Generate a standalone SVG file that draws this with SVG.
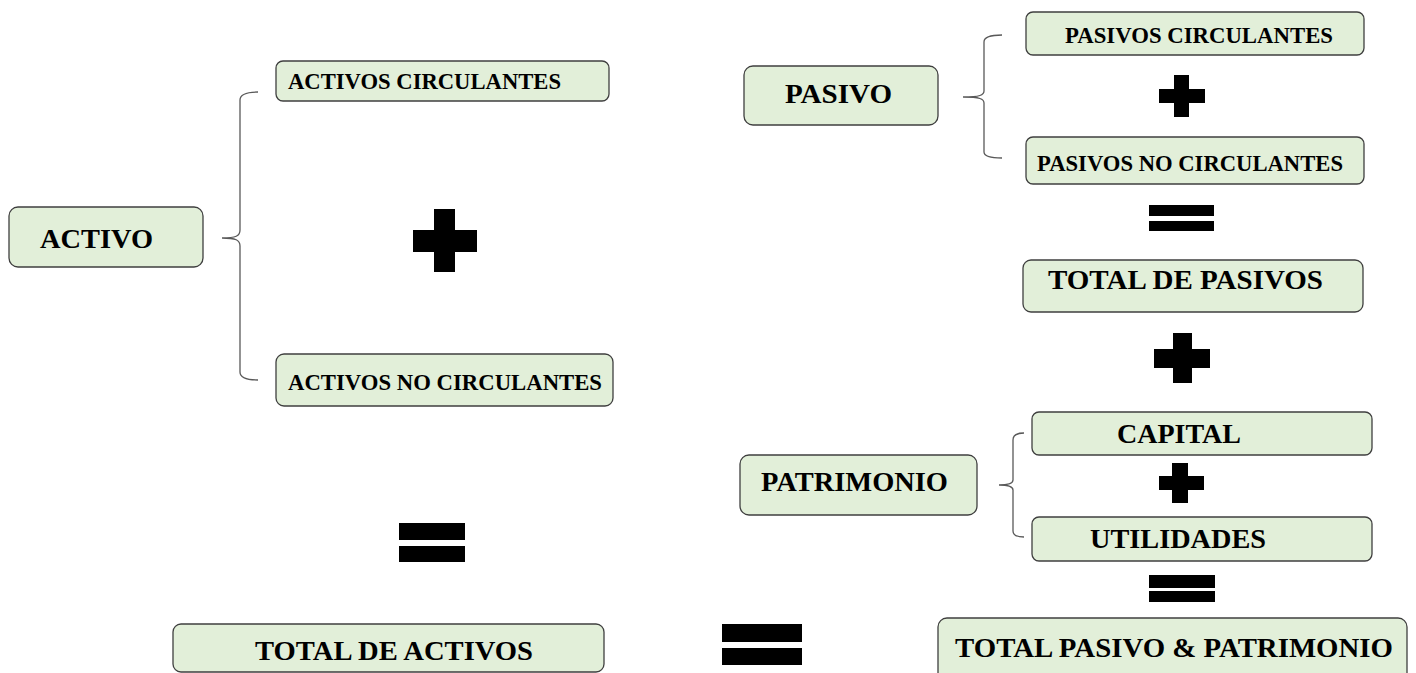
<svg xmlns="http://www.w3.org/2000/svg" width="1416" height="673" viewBox="0 0 1416 673">
<style>
.box{fill:#e2efd9;stroke:#3f3f3f;stroke-width:1.3}
.t{font-family:"Liberation Serif","Times New Roman",serif;font-weight:bold;fill:#000}
.big{font-size:28px}
.sm{font-size:22.5px}
.brace{fill:none;stroke:#595959;stroke-width:1.3}
.op{fill:#000}
</style>
<rect width="1416" height="673" fill="#fff"/>
<g id="connectors">
<path class="brace" d="M258,92 C246,92 240,94 240,100 L240,230 C240,236 236,238 222,238 C236,238 240,240 240,246 L240,372 C240,378 246,380 258,380"/>
<path class="brace" d="M1002,35 C990,35 984,37 984,42 L984,91 C984,95 980,97 963,97 C980,97 984,99 984,103 L984,152 C984,156 990,158 1002,158"/>
<path class="brace" d="M1024,433 C1017,433 1013,435 1013,440 L1013,480 C1013,483 1010,485 999,485 C1010,485 1013,487 1013,490 L1013,531 C1013,535 1017,537 1024,537"/>
</g>
<g id="activo"><rect class="box" x="9" y="207" width="194" height="60" rx="9"/><text class="t big" x="40" y="248" textLength="113" lengthAdjust="spacingAndGlyphs">ACTIVO</text></g>
<g id="activos-circulantes"><rect class="box" x="276" y="61" width="333" height="40" rx="7"/><text class="t sm" x="288" y="89" textLength="273" lengthAdjust="spacingAndGlyphs">ACTIVOS CIRCULANTES</text></g>
<g id="activos-no-circulantes"><rect class="box" x="276" y="354" width="337" height="52" rx="8"/><text class="t sm" x="288" y="390" textLength="314" lengthAdjust="spacingAndGlyphs">ACTIVOS NO CIRCULANTES</text></g>
<g id="total-activos"><rect class="box" x="173" y="624" width="431" height="48" rx="8"/><text class="t big" x="255" y="660" textLength="278" lengthAdjust="spacingAndGlyphs">TOTAL DE ACTIVOS</text></g>
<g id="pasivo"><rect class="box" x="744" y="66" width="194" height="59" rx="9"/><text class="t big" x="785" y="103" textLength="107" lengthAdjust="spacingAndGlyphs">PASIVO</text></g>
<g id="pasivos-circulantes"><rect class="box" x="1026" y="12" width="338" height="43" rx="7"/><text class="t sm" x="1065" y="43" textLength="268" lengthAdjust="spacingAndGlyphs">PASIVOS CIRCULANTES</text></g>
<g id="pasivos-no-circulantes"><rect class="box" x="1026" y="137" width="338" height="47" rx="7"/><text class="t sm" x="1037" y="171" textLength="306" lengthAdjust="spacingAndGlyphs">PASIVOS NO CIRCULANTES</text></g>
<g id="total-pasivos"><rect class="box" x="1023" y="260" width="340" height="52" rx="8"/><text class="t big" x="1048" y="289" textLength="275" lengthAdjust="spacingAndGlyphs">TOTAL DE PASIVOS</text></g>
<g id="patrimonio"><rect class="box" x="740" y="455" width="237" height="60" rx="9"/><text class="t big" x="761" y="491" textLength="187" lengthAdjust="spacingAndGlyphs">PATRIMONIO</text></g>
<g id="capital"><rect class="box" x="1032" y="412" width="340" height="43" rx="7"/><text class="t big" x="1117" y="443" textLength="124" lengthAdjust="spacingAndGlyphs">CAPITAL</text></g>
<g id="utilidades"><rect class="box" x="1032" y="517" width="340" height="44" rx="7"/><text class="t big" x="1090" y="548" textLength="176" lengthAdjust="spacingAndGlyphs">UTILIDADES</text></g>
<g id="total-pasivo-patrimonio"><rect class="box" x="938" y="618" width="469" height="64" rx="9"/><text class="t big" x="955" y="657" textLength="438" lengthAdjust="spacingAndGlyphs">TOTAL PASIVO &amp; PATRIMONIO</text></g>
<g id="operators">
<path class="op" d="M434,209 H455 V230 H477 V252 H455 V272 H434 V252 H413 V230 H434 Z"/>
<path class="op" d="M1174,75 H1189 V89 H1205 V103 H1189 V117 H1174 V103 H1159 V89 H1174 Z"/>
<path class="op" d="M1173,333 H1192 V349 H1210 V368 H1192 V383 H1173 V368 H1154 V349 H1173 Z"/>
<path class="op" d="M1172,463 H1188 V476 H1204 V490 H1188 V503 H1172 V490 H1159 V476 H1172 Z"/>
<rect class="op" x="1149" y="205" width="65" height="11"/><rect class="op" x="1149" y="221" width="65" height="10"/>
<rect class="op" x="1149" y="575" width="66" height="13"/><rect class="op" x="1149" y="591" width="66" height="11"/>
<rect class="op" x="399" y="523" width="66" height="17"/><rect class="op" x="399" y="546" width="66" height="16"/>
<rect class="op" x="722" y="624" width="80" height="18"/><rect class="op" x="722" y="648" width="80" height="17"/>
</g>
</svg>
